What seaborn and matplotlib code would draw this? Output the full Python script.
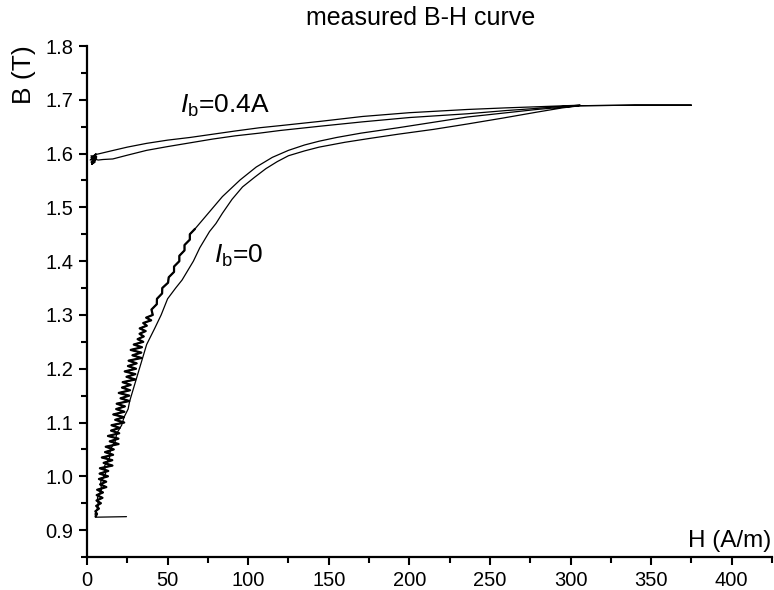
import numpy as np
import pandas as pd
import matplotlib
matplotlib.use("Agg")
import matplotlib.pyplot as plt
from matplotlib.ticker import MultipleLocator, FormatStrFormatter
import seaborn as sns

# ---------------- data ----------------
# Ib = 0 : ascending (right / outer) branch, starting with the short tail at the bottom
h_ib0_up = [24.5, 5.5, 5.0, 7.0, 6.5, 9.0, 8.5, 11.5, 11.0, 14.0, 14.5, 17.5, 18.5, 21.5, 23.0,
            25.5, 26.5, 28.0, 29.5, 31.0, 32.5, 34.5, 37.0, 39.5, 42.0, 46.0, 50.0, 55.0, 59.0,
            63.0, 66.0, 70.0, 76.0, 80.0, 84.0, 90.0, 96.5, 104.0, 111.0, 118.0, 125.0, 135.0,
            144.0, 160.0, 175.0, 193.0, 215.0, 236.0, 258.0, 279.0, 295.0, 306.0, 340.0, 375.0]
b_ib0_up = [0.925, 0.924, 0.930, 0.945, 0.960, 0.975, 0.990, 1.005, 1.020, 1.035, 1.050, 1.065,
            1.080, 1.095, 1.110, 1.125, 1.140, 1.155, 1.170, 1.185, 1.200, 1.220, 1.245, 1.260,
            1.275, 1.300, 1.330, 1.350, 1.365, 1.385, 1.400, 1.425, 1.455, 1.470, 1.489, 1.515,
            1.538, 1.556, 1.572, 1.585, 1.596, 1.605, 1.612, 1.621, 1.628, 1.636, 1.645, 1.655,
            1.666, 1.677, 1.685, 1.689, 1.690, 1.690]

# Ib = 0 : descending (left / inner) branch, smooth upper part
h_ib0_down = [375.0, 340.0, 306.0, 279.0, 236.0, 193.0, 170.0, 155.0, 144.0, 135.0, 125.0,
              115.0, 105.0, 95.0, 84.0]
b_ib0_down = [1.690, 1.690, 1.689, 1.682, 1.668, 1.648, 1.638, 1.630, 1.623, 1.616, 1.606,
              1.593, 1.575, 1.551, 1.520]

# Ib = 0 : descending branch, noisy lower part
h_ib0_noisy = [67.0, 63.8, 63.8, 60.5, 60.5, 57.3, 57.3, 54.0, 54.0, 50.7, 50.3, 46.7, 46.6,
               43.4, 43.3, 40.0,
               40.8, 36.7, 39.8, 34.9, 37.1, 32.7, 36.4, 32.6, 35.2, 31.4, 34.9,
               29.0, 34.1, 27.1, 33.7, 28.2, 33.8, 25.8, 30.8, 25.4, 30.4, 23.4, 30.0, 24.5,
               30.0, 22.1, 27.1, 21.7, 26.7, 19.7, 26.2, 20.8, 26.3, 18.4, 23.5, 18.1, 23.2,
               16.3, 22.9, 17.5, 23.1, 15.2, 20.3, 14.9, 20.0, 13.0, 19.5, 14.1, 19.6, 11.6,
               16.6, 11.2, 16.2, 9.2, 15.7, 10.3, 15.8, 8.0, 13.2, 7.8, 13.0,
               7.4, 11.9, 8.1, 12.0, 6.3, 9.9, 6.0, 9.6, 5.9, 8.6, 5.7, 7.4, 5.2, 6.2, 5.3]
b_ib0_noisy = [1.460, 1.450, 1.440, 1.430, 1.420, 1.410, 1.400, 1.390, 1.380, 1.370, 1.360,
               1.350, 1.340, 1.330, 1.320, 1.310,
               1.300, 1.295, 1.290, 1.285, 1.280, 1.275, 1.270, 1.265, 1.260, 1.255, 1.250,
               1.245, 1.240, 1.235, 1.230, 1.225, 1.220, 1.215, 1.210, 1.205, 1.200, 1.195,
               1.190, 1.185, 1.180, 1.175, 1.170, 1.165, 1.160, 1.155, 1.150, 1.145, 1.140,
               1.135, 1.130, 1.125, 1.120, 1.115, 1.110, 1.105, 1.100, 1.095, 1.090, 1.085,
               1.080, 1.075, 1.070, 1.065, 1.060, 1.055, 1.050, 1.045, 1.040, 1.035, 1.030,
               1.025, 1.020, 1.015, 1.010, 1.005, 1.000,
               0.995, 0.990, 0.985, 0.980, 0.975, 0.970, 0.965, 0.960, 0.955, 0.950, 0.945,
               0.940, 0.935, 0.930, 0.925]

# Ib = 0.4 A : lower branch (ascending, starting in the dense blob) and upper branch (descending)
h_ib4_up = [3.0, 5.5, 2.5, 6.0, 2.0, 5.5, 3.0, 6.0, 2.5, 5.0, 4.0, 7.0, 10.0, 16.0, 25.0, 37.0,
            50.0, 64.0, 78.0, 92.0, 107.0, 120.0, 145.0, 171.0, 200.0, 236.0, 260.0, 279.0,
            297.0, 306.0]
b_ib4_up = [1.582, 1.598, 1.584, 1.595, 1.588, 1.600, 1.580, 1.592, 1.596, 1.586, 1.590, 1.588,
            1.589, 1.590, 1.597, 1.606, 1.613, 1.620, 1.627, 1.633, 1.638, 1.643, 1.651, 1.659,
            1.667, 1.674, 1.680, 1.684, 1.688, 1.690]
h_ib4_down = [306.0, 279.0, 260.0, 236.0, 200.0, 171.0, 145.0, 120.0, 107.0, 92.0, 78.0, 64.0,
              50.0, 37.0, 25.0, 15.0, 8.0, 5.0, 2.5, 5.0, 3.0]
b_ib4_down = [1.690, 1.687, 1.685, 1.682, 1.676, 1.669, 1.660, 1.652, 1.648, 1.642, 1.636, 1.630,
              1.625, 1.619, 1.612, 1.605, 1.600, 1.598, 1.593, 1.584, 1.580]

x_ticks = [0, 50, 100, 150, 200, 250, 300, 350, 400]
y_ticks = [0.9, 1.0, 1.1, 1.2, 1.3, 1.4, 1.5, 1.6, 1.7, 1.8]

title = "measured B-H curve"
x_label = "H (A/m)"
y_label = "B (T)"
label_ib0 = r"$\mathit{I}_{\mathrm{b}}$=0"
label_ib4 = r"$\mathit{I}_{\mathrm{b}}$=0.4A"

# ---------------- build tables ----------------
def make_df(h, b, name):
    return pd.DataFrame({"H": h, "B": b, "curve": name, "order": np.arange(len(h))})

df0 = make_df(h_ib0_up + h_ib0_down + h_ib0_noisy,
              b_ib0_up + b_ib0_down + b_ib0_noisy, "Ib=0")
df0_noisy = make_df(h_ib0_noisy, b_ib0_noisy, "Ib=0 noisy")
df4 = make_df(h_ib4_up + h_ib4_down, b_ib4_up + b_ib4_down, "Ib=0.4A")

# ---------------- style ----------------
sns.set_theme(style="ticks")
plt.rcParams["font.family"] = ["Liberation Sans", "DejaVu Sans"]
plt.rcParams["mathtext.fontset"] = "custom"
plt.rcParams["mathtext.rm"] = "Liberation Sans"
plt.rcParams["mathtext.it"] = "Liberation Sans:italic"
plt.rcParams["mathtext.bf"] = "Liberation Sans:bold"

fig = plt.figure(figsize=(7.74, 5.90), dpi=100)
W, H = 774, 590
ax = fig.add_axes([87 / W, 33 / H, 685 / W, 511 / H])

sns.lineplot(data=df0, x="H", y="B", sort=False, estimator=None, color="black",
             linewidth=0.9, ax=ax)
sns.lineplot(data=df0_noisy, x="H", y="B", sort=False, estimator=None, color="black",
             linewidth=1.6, ax=ax)
sns.lineplot(data=df4, x="H", y="B", sort=False, estimator=None, color="black",
             linewidth=0.9, ax=ax)

ax.set_xlim(0, 425)
ax.set_ylim(0.85, 1.8)
ax.set_xticks(x_ticks)
ax.set_yticks(y_ticks)
ax.xaxis.set_minor_locator(MultipleLocator(25))
ax.yaxis.set_minor_locator(MultipleLocator(0.05))
ax.yaxis.set_major_formatter(FormatStrFormatter("%.1f"))
ax.tick_params(axis="both", which="major", direction="out", length=6, width=1.5,
               labelsize=14.5, color="black", labelcolor="black", pad=4)
ax.tick_params(axis="both", which="minor", direction="out", length=4, width=1.5, color="black")

for side in ("top", "right"):
    ax.spines[side].set_visible(False)
for side in ("left", "bottom"):
    ax.spines[side].set_linewidth(1.6)
    ax.spines[side].set_color("black")

ax.set_xlabel(x_label, fontsize=17.5, color="black")
ax.xaxis.label.set_ha("right")
ax.xaxis.label.set_va("center")
ax.xaxis.set_label_coords((771 - 87) / 685, (557 - 541) / 511)

ax.set_ylabel(y_label, fontsize=19, color="black")
ax.yaxis.label.set_ha("center")
ax.yaxis.label.set_va("center")
ax.yaxis.set_label_coords((24 - 87) / 685, (557 - 75) / 511)

fig.text(421 / W, 1 - 18 / H, title, ha="center", va="center", fontsize=18, color="black")

ax.text(57.4, 1.675, label_ib4, fontsize=19, ha="left", va="baseline", color="black")
ax.text(79.0, 1.397, label_ib0, fontsize=19, ha="left", va="baseline", color="black")

ax.grid(False)
fig.savefig("out.png", dpi=100, facecolor="white")
